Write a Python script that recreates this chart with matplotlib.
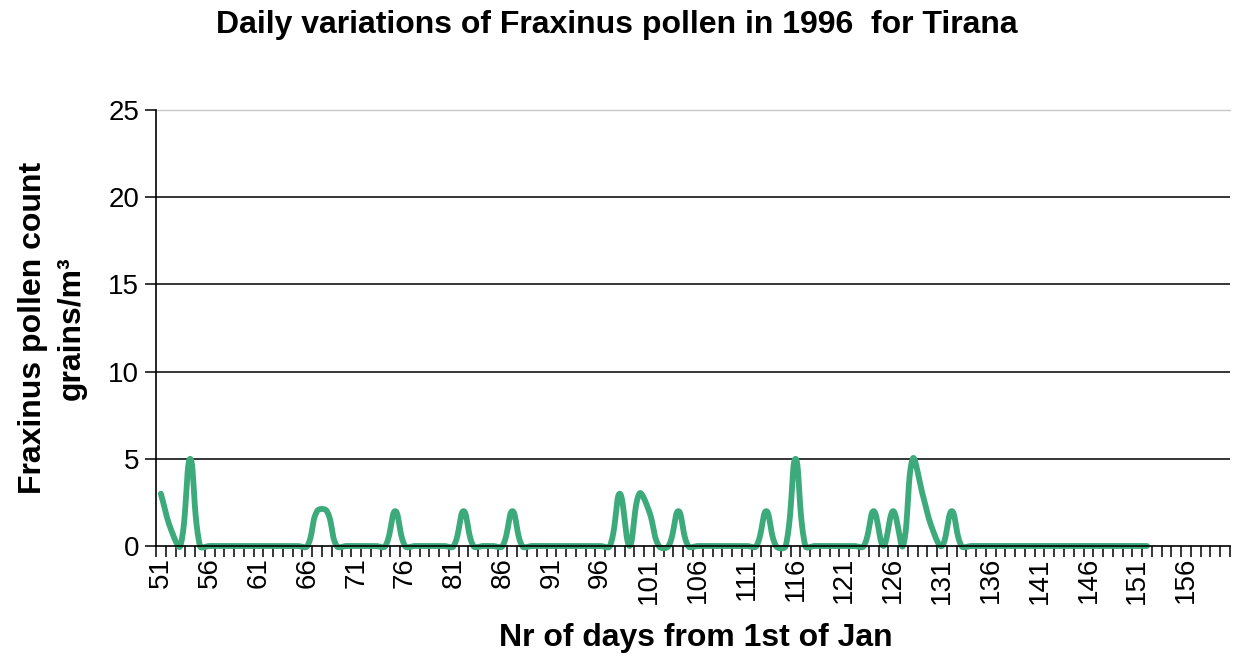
import numpy as np
import matplotlib
matplotlib.use("Agg")
import matplotlib.pyplot as plt
from matplotlib.ticker import FixedLocator, NullFormatter

plt.rcParams['font.family'] = ['Liberation Sans', 'DejaVu Sans']

# Daily Fraxinus pollen counts (grains/m3), day 51 .. day 152 of 1996
first_day = 51
pollen = [
    3, 1, 0, 5, 0, 0, 0, 0, 0, 0,      # 51-60
    0, 0, 0, 0, 0, 0, 2, 2, 0, 0,      # 61-70
    0, 0, 0, 0, 2, 0, 0, 0, 0, 0,      # 71-80
    0, 2, 0, 0, 0, 0, 2, 0, 0, 0,      # 81-90
    0, 0, 0, 0, 0, 0, 0, 3, 0, 3,      # 91-100
    2, 0, 0, 2, 0, 0, 0, 0, 0, 0,      # 101-110
    0, 0, 2, 0, 0, 5, 0, 0, 0, 0,      # 111-120
    0, 0, 0, 2, 0, 2, 0, 5, 3, 1,      # 121-130
    0, 2, 0, 0, 0, 0, 0, 0, 0, 0,      # 131-140
    0, 0, 0, 0, 0, 0, 0, 0, 0, 0,      # 141-150
    0, 0,                              # 151-152
]
days = list(range(first_day, first_day + len(pollen)))
axis_days = list(range(51, 161))        # category axis 51 .. 160
label_days = axis_days[::5]             # 51, 56, ..., 156
y_ticks = [0, 5, 10, 15, 20, 25]

title = "Daily variations of Fraxinus pollen in 1996  for Tirana"
xlabel = "Nr of days from 1st of Jan"
ylabel = "Fraxinus pollen count\ngrains/m\u00b3"

line_color = "#3daa7c"


def smooth_display(points, tension=0.4, n=24):
    """Smooth curve through display-space points; tangents scaled by
    neighbouring segment lengths so flat runs stay flat."""
    p = np.asarray(points, float)
    p = np.vstack([p[0], p, p[-1]])
    t = np.linspace(0, 1, n, endpoint=False)[:, None]
    out = []
    for i in range(1, len(p) - 2):
        p0, p1, p2, p3 = p[i - 1], p[i], p[i + 1], p[i + 2]
        d01 = np.hypot(*(p1 - p0))
        d12 = np.hypot(*(p2 - p1))
        d23 = np.hypot(*(p3 - p2))
        s1 = d12 / (d01 + d12) if d01 + d12 > 0 else 0.0
        s2 = d12 / (d12 + d23) if d12 + d23 > 0 else 0.0
        c1 = p1 + tension * s1 * (p2 - p0)
        c2 = p2 - tension * s2 * (p3 - p1)
        b = (1 - t) ** 3 * p1 + 3 * (1 - t) ** 2 * t * c1 \
            + 3 * (1 - t) * t ** 2 * c2 + t ** 3 * p2
        out.append(b)
    out.append(p[-2][None, :])
    return np.vstack(out)


fig = plt.figure(figsize=(12.33, 6.58), dpi=100)
ax = fig.add_axes([156 / 1233, 1 - 546 / 658, (1230 - 156) / 1233, (546 - 110) / 658])

ax.set_xlim(axis_days[0] - 0.5, axis_days[-1] + 0.5)
ax.set_ylim(y_ticks[0], y_ticks[-1])

# horizontal gridlines
for v in y_ticks[1:-1]:
    ax.axhline(v, color="black", linewidth=1.1, zorder=1)

# smooth the series in screen space, then map back to data coordinates
disp = ax.transData.transform(np.column_stack([days, pollen]))
curve = ax.transData.inverted().transform(smooth_display(disp))
ax.plot(curve[:, 0], curve[:, 1], color=line_color, linewidth=4.2,
        solid_capstyle="round", solid_joinstyle="round", zorder=3, clip_on=False)

# y axis
ax.set_yticks(y_ticks)
ax.set_yticklabels([str(v) for v in y_ticks])
ax.tick_params(axis="y", direction="out", length=8, width=1.1, pad=4,
               labelsize=20, colors="black")

# x axis: tick marks between categories, labels every fifth category
ax.xaxis.set_major_locator(FixedLocator(label_days))
ax.set_xticklabels([str(d) for d in label_days], rotation=90)
ax.xaxis.set_minor_locator(FixedLocator([d - 0.5 for d in axis_days] + [axis_days[-1] + 0.5]))
ax.xaxis.set_minor_formatter(NullFormatter())
ax.tick_params(axis="x", which="major", length=0, pad=8, labelsize=20)
ax.tick_params(axis="x", which="minor", direction="out", length=8, width=1.1)

for side in ("left", "bottom"):
    ax.spines[side].set_color("black")
    ax.spines[side].set_linewidth(1.2)
    ax.spines[side].set_zorder(4)
ax.spines["right"].set_visible(False)
ax.spines["top"].set_color("#c8c8c8")
ax.spines["top"].set_linewidth(1.0)

fig.text(0.5, 1 - 25 / 658, title, ha="center", va="center",
         fontsize=23, fontweight="bold")
fig.text(696 / 1233, 1 - 638 / 658, xlabel, ha="center", va="center",
         fontsize=23, fontweight="bold")
fig.text(52 / 1233, 1 - 328 / 658, ylabel, ha="center", va="center",
         rotation=90, fontsize=23, fontweight="bold", multialignment="center",
         linespacing=1.38)

fig.savefig("out.png", dpi=100)
